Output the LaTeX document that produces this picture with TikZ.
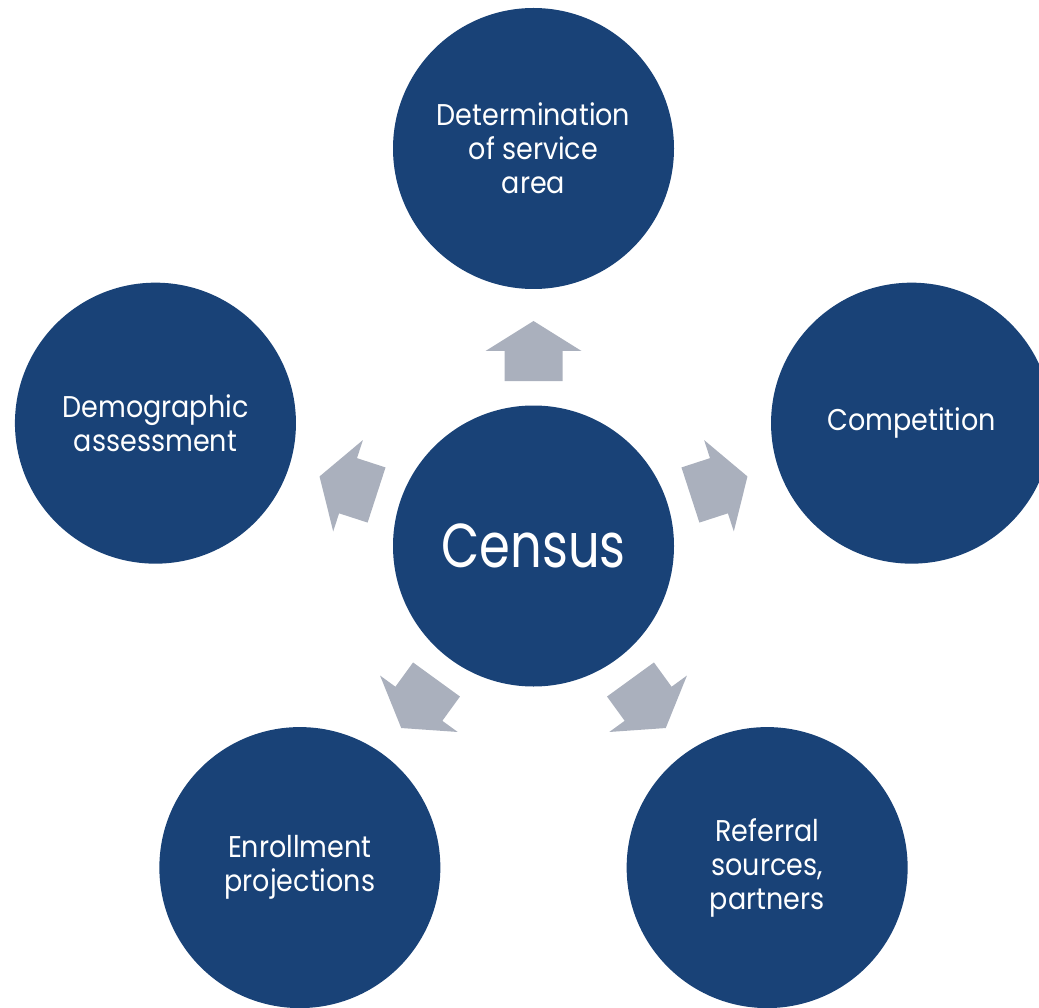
\documentclass[tikz,border=0pt]{standalone}
\usepackage{fontspec}
\setmainfont[FakeStretch=0.9]{Poppins}
\newfontfamily\hubfont[FakeStretch=0.8]{Poppins}
\definecolor{circblue}{RGB}{25,66,119}
\definecolor{arrgray}{RGB}{170,176,189}
\begin{document}
\begin{tikzpicture}[x=1pt,y=1pt,
  bubble/.style={circle,fill=circblue,minimum size=281pt,inner sep=0pt,text=white,align=center,
    font=\fontsize{30}{34}\selectfont},
  hub/.style={bubble,font=\hubfont\fontsize{62}{70}\selectfont},
  pics/blockarr/.style={code={\fill[arrgray] (165,-29) -- (195,-29) -- (195,-48) -- (225,0) -- (195,48) -- (195,29) -- (165,29) -- cycle;}}]
\useasboundingbox (0,0) rectangle (1039,-1008);
\node[hub] (census) at (533.5,-546) {Census};
\node[bubble] (svc)  at ([shift={(90:397.5)}]census.center)  {Determination\\of service\\area};
\node[bubble] (comp) at ([shift={(18:397.5)}]census.center)  {Competition};
\node[bubble] (refr) at ([shift={(-54:397.5)}]census.center) {Referral\\sources,\\partners};
\node[bubble] (enrl) at ([shift={(234:397.5)}]census.center) {Enrollment\\projections};
\node[bubble] (demo) at ([shift={(162:397.5)}]census.center) {Demographic\\assessment};
\foreach \a in {90,18,-54,234,162}{
  \pic[rotate=\a] at (census.center) {blockarr};
}
\end{tikzpicture}
\end{document}
